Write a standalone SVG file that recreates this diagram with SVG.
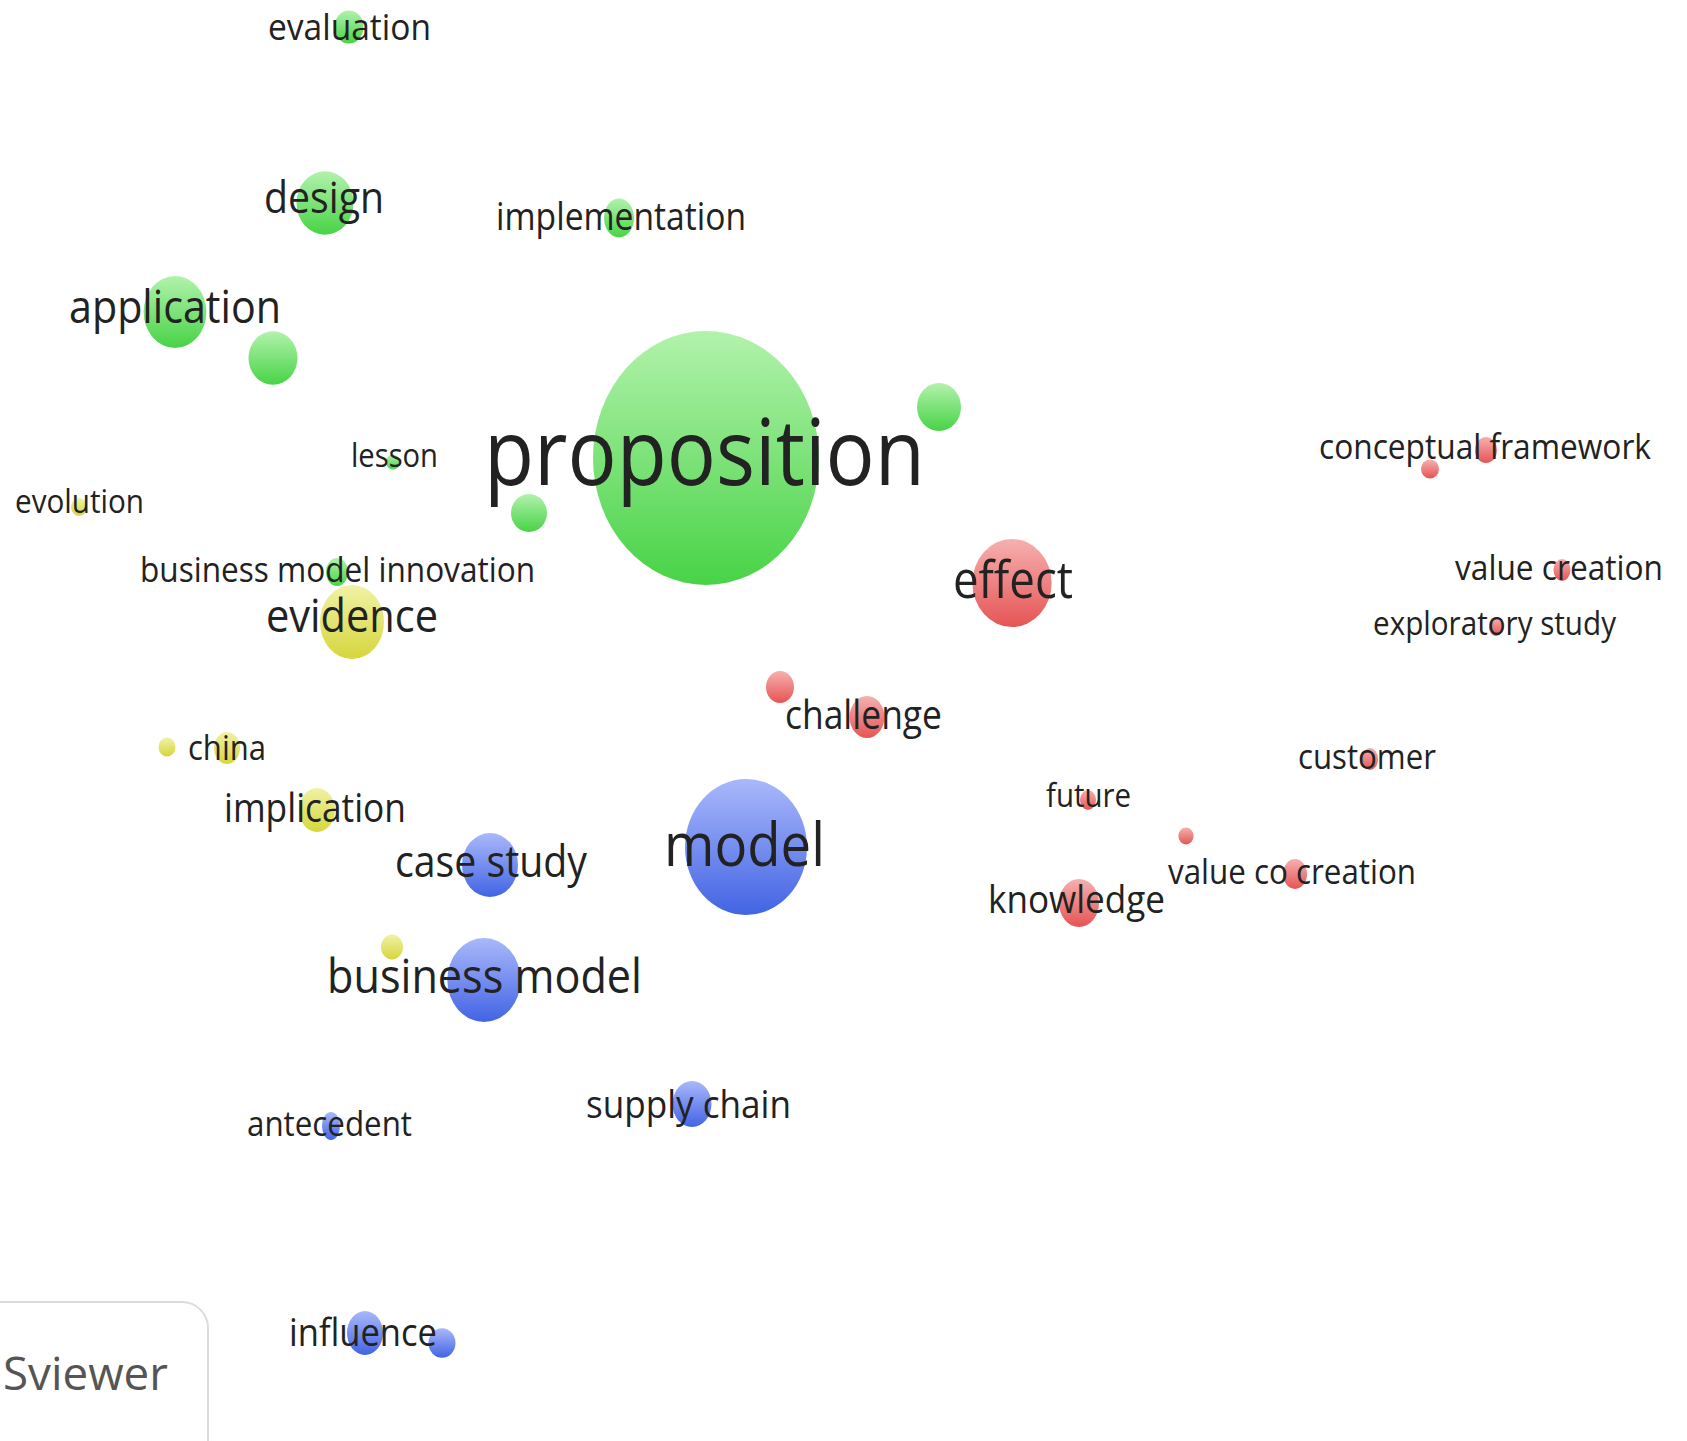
<svg xmlns="http://www.w3.org/2000/svg" width="1687" height="1441" viewBox="0 0 1687 1441">
<defs>
<linearGradient id="gG" x1="0" y1="0" x2="0" y2="1"><stop offset="0" stop-color="#b2f2ac"/><stop offset="1" stop-color="#48d346"/></linearGradient>
<linearGradient id="gR" x1="0" y1="0" x2="0" y2="1"><stop offset="0" stop-color="#f6b0b0"/><stop offset="1" stop-color="#e65454"/></linearGradient>
<linearGradient id="gB" x1="0" y1="0" x2="0" y2="1"><stop offset="0" stop-color="#aab8fa"/><stop offset="1" stop-color="#4264e4"/></linearGradient>
<linearGradient id="gY" x1="0" y1="0" x2="0" y2="1"><stop offset="0" stop-color="#f0f2a6"/><stop offset="1" stop-color="#d6d63c"/></linearGradient>
<style>
.g{fill:url(#gG)} .r{fill:url(#gR)} .b{fill:url(#gB)} .y{fill:url(#gY)}
text{font-family:"Open Sans","Noto Sans","Liberation Sans",sans-serif;fill:#222}
</style>
</defs>
<rect width="1687" height="1441" fill="#ffffff"/>
<g id="connectors"/>
<g id="bubbles">
<g id="n-evaluation"><ellipse class="g" cx="349" cy="27" rx="14.5" ry="16.5"/></g>
<g id="n-design"><ellipse class="g" cx="325" cy="203" rx="28.5" ry="31.7"/></g>
<g id="n-implementation"><ellipse class="g" cx="619" cy="218" rx="15" ry="19.5"/></g>
<g id="n-application"><ellipse class="g" cx="175" cy="312" rx="31.4" ry="36"/></g>
<g id="n-green-a"><ellipse class="g" cx="273" cy="358" rx="24.5" ry="26.7"/></g>
<g id="n-lesson"><ellipse class="g" cx="393" cy="462" rx="7" ry="7.5"/></g>
<g id="n-proposition"><ellipse class="g" cx="706" cy="458" rx="113" ry="127"/></g>
<g id="n-green-b"><ellipse class="g" cx="529" cy="513" rx="18" ry="19"/></g>
<g id="n-green-c"><ellipse class="g" cx="939" cy="407" rx="22" ry="24"/></g>
<g id="n-bmi"><ellipse class="g" cx="337" cy="572" rx="11" ry="14"/></g>
<g id="n-evolution"><ellipse class="y" cx="79" cy="507" rx="8" ry="9"/></g>
<g id="n-evidence"><ellipse class="y" cx="352" cy="622" rx="32" ry="37"/></g>
<g id="n-china"><ellipse class="y" cx="227" cy="748" rx="13" ry="16"/></g>
<g id="n-yellow-a"><ellipse class="y" cx="167" cy="747" rx="8.5" ry="9.5"/></g>
<g id="n-implication"><ellipse class="y" cx="317" cy="810" rx="18" ry="22"/></g>
<g id="n-yellow-b"><ellipse class="y" cx="392" cy="947" rx="11" ry="12.4"/></g>
<g id="n-effect"><ellipse class="r" cx="1012" cy="583" rx="39.6" ry="44"/></g>
<g id="n-conceptual"><ellipse class="r" cx="1486" cy="450" rx="11" ry="13"/></g>
<g id="n-red-a"><ellipse class="r" cx="1430" cy="469" rx="9" ry="9.5"/></g>
<g id="n-valuecreation"><ellipse class="r" cx="1562" cy="570" rx="8.5" ry="11"/></g>
<g id="n-exploratory"><ellipse class="r" cx="1496" cy="627" rx="7" ry="9"/></g>
<g id="n-red-b"><ellipse class="r" cx="780" cy="687" rx="14" ry="16"/></g>
<g id="n-challenge"><ellipse class="r" cx="867" cy="717" rx="17.5" ry="21"/></g>
<g id="n-customer"><ellipse class="r" cx="1370" cy="759" rx="8" ry="11"/></g>
<g id="n-future"><ellipse class="r" cx="1088" cy="800" rx="8" ry="10"/></g>
<g id="n-red-c"><ellipse class="r" cx="1186" cy="836" rx="7.6" ry="8.4"/></g>
<g id="n-valuecocreation"><ellipse class="r" cx="1295" cy="874" rx="12" ry="15"/></g>
<g id="n-knowledge"><ellipse class="r" cx="1079" cy="903" rx="20" ry="24"/></g>
<g id="n-model"><ellipse class="b" cx="746" cy="847" rx="61" ry="68"/></g>
<g id="n-casestudy"><ellipse class="b" cx="490" cy="865" rx="28" ry="32"/></g>
<g id="n-businessmodel"><ellipse class="b" cx="484" cy="980" rx="36.7" ry="42"/></g>
<g id="n-supplychain"><ellipse class="b" cx="692" cy="1104" rx="19.5" ry="23"/></g>
<g id="n-antecedent"><ellipse class="b" cx="331" cy="1126" rx="9" ry="14"/></g>
<g id="n-influence"><ellipse class="b" cx="365" cy="1333" rx="18" ry="22"/></g>
<g id="n-blue-a"><ellipse class="b" cx="442" cy="1343" rx="13.5" ry="14.7"/></g>
</g>
<g id="labels">
<text x="268" y="40" font-size="37" textLength="163" lengthAdjust="spacingAndGlyphs">evaluation</text>
<text x="264" y="213" font-size="43" textLength="120" lengthAdjust="spacingAndGlyphs">design</text>
<text x="496" y="230" font-size="37.4" textLength="250" lengthAdjust="spacingAndGlyphs">implementation</text>
<text x="69" y="323" font-size="45.7" textLength="212" lengthAdjust="spacingAndGlyphs">application</text>
<text x="351" y="467" font-size="32.3" textLength="87" lengthAdjust="spacingAndGlyphs">lesson</text>
<text x="484" y="485" font-size="90.7" textLength="441" lengthAdjust="spacingAndGlyphs">proposition</text>
<text x="15" y="513" font-size="32.9" textLength="129" lengthAdjust="spacingAndGlyphs">evolution</text>
<text x="140" y="582" font-size="33.9" textLength="395" lengthAdjust="spacingAndGlyphs">business model innovation</text>
<text x="266" y="632" font-size="46" textLength="172" lengthAdjust="spacingAndGlyphs">evidence</text>
<text x="953" y="598" font-size="50.6" textLength="120" lengthAdjust="spacingAndGlyphs">effect</text>
<text x="1319" y="459" font-size="35.2" textLength="332" lengthAdjust="spacingAndGlyphs">conceptual framework</text>
<text x="1455" y="580" font-size="35.2" textLength="208" lengthAdjust="spacingAndGlyphs">value creation</text>
<text x="1373" y="635" font-size="32.9" textLength="243" lengthAdjust="spacingAndGlyphs">exploratory study</text>
<text x="785" y="729" font-size="39.3" textLength="157" lengthAdjust="spacingAndGlyphs">challenge</text>
<text x="188" y="760" font-size="34.9" textLength="78" lengthAdjust="spacingAndGlyphs">china</text>
<text x="1298" y="769" font-size="34.6" textLength="138" lengthAdjust="spacingAndGlyphs">customer</text>
<text x="1046" y="807" font-size="32.6" textLength="85" lengthAdjust="spacingAndGlyphs">future</text>
<text x="224" y="822" font-size="39.4" textLength="182" lengthAdjust="spacingAndGlyphs">implication</text>
<text x="664" y="866" font-size="60.4" textLength="161" lengthAdjust="spacingAndGlyphs">model</text>
<text x="395" y="877" font-size="43.6" textLength="192" lengthAdjust="spacingAndGlyphs">case study</text>
<text x="1168" y="884" font-size="34.9" textLength="248" lengthAdjust="spacingAndGlyphs">value co creation</text>
<text x="988" y="913" font-size="38.9" textLength="177" lengthAdjust="spacingAndGlyphs">knowledge</text>
<text x="327" y="993" font-size="47.8" textLength="315" lengthAdjust="spacingAndGlyphs">business model</text>
<text x="586" y="1118" font-size="39.1" textLength="205" lengthAdjust="spacingAndGlyphs">supply chain</text>
<text x="247" y="1136" font-size="35" textLength="165" lengthAdjust="spacingAndGlyphs">antecedent</text>
<text x="289" y="1346" font-size="38.6" textLength="148" lengthAdjust="spacingAndGlyphs">influence</text>
</g>
<g id="logo">
<rect x="-40" y="1302" width="248" height="200" rx="26" ry="26" fill="#ffffff" stroke="#dcdcdc" stroke-width="2"/>
<text x="3" y="1390" font-size="46" textLength="165" lengthAdjust="spacingAndGlyphs" style="fill:#555555">Sviewer</text>
</g>
</svg>
